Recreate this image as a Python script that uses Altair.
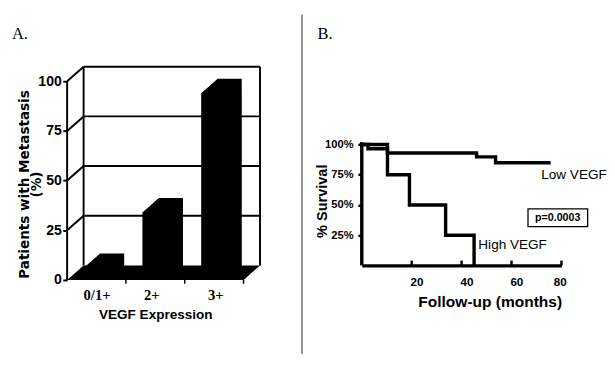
import altair as alt
import pandas as pd

# ---------------- Panel A data ----------------
categories = ["0/1+", "2+", "3+"]
metastasis_pct = [6, 34, 94]
y_ticks_a = [0, 25, 50, 75, 100]
x_label_pos_a = [0.5, 1.43, 2.52]

# ---------------- Panel B data ----------------
high_months = [0, 10.3, 19.1, 33.6, 45.0]
high_surv = [100, 75, 50, 25, 0]
low_months = [0, 2.5, 10.3, 46.0, 53.6, 75.0]
low_surv = [100, 96.5, 93.0, 89.8, 85.0, 85.0]
x_ticks_b = [20, 40, 60, 80]
y_ticks_b = [25, 50, 75, 100]
p_value_text = "p=0.0003"

# ---------------- geometry / style ----------------
N = len(categories)
DX = 0.28      # depth offset (category units)
DY = 7.3       # depth offset (% units)
BAR_L, BAR_R = 0.28, 0.69
XMAX = N + DX
YMAX = 100 + DY
W_A, H_A = 199, 220
W_B, H_B = 206, 205
SANS = "Liberation Sans"
SERIF = "Liberation Serif"
TOP = -53.7

# ---------- Panel A frames ----------
segs = []
for k in y_ticks_a[1:]:
    segs.append(dict(x=DX, x2=N + DX, y=k + DY, y2=k + DY))
    segs.append(dict(x=0, x2=DX, y=k, y2=k + DY))
segs.append(dict(x=DX, x2=DX, y=DY, y2=100 + DY))
segs.append(dict(x=N + DX, x2=N + DX, y=DY, y2=100 + DY))
segs.append(dict(x=0, x2=0, y=0, y2=100))
seg_df = pd.DataFrame(segs)

floor_df = pd.DataFrame(dict(x=[0, DX, N, N + DX], y=[0, DY, DY, DY], y2=[0, 0, 0, DY]))

bar_rows = []
for i, (c, v) in enumerate(zip(categories, metastasis_pct)):
    bar_rows.append(dict(cat=c, x=i + BAR_L, y=v, y2=0))
    bar_rows.append(dict(cat=c, x=i + BAR_L + DX, y=v + DY, y2=0))
    bar_rows.append(dict(cat=c, x=i + BAR_R + DX, y=v + DY, y2=0))
bar_df = pd.DataFrame(bar_rows)

tick_df = pd.DataFrame(dict(x=[i + 1 for i in range(N)]))

label_expr = " : ".join(
    [f"datum.value < {i + 1} ? '{c}'" for i, c in enumerate(categories[:-1])] + [f"'{categories[-1]}'"]
)

xs_a = alt.Scale(domain=[0, XMAX], nice=False, zero=False)
ys_a = alt.Scale(domain=[0, YMAX], nice=False, zero=False)

frame_a = alt.Chart(seg_df).mark_rule(color="black", strokeWidth=2).encode(
    x=alt.X("x:Q", scale=xs_a, axis=alt.Axis(
        values=x_label_pos_a, labelExpr=label_expr, ticks=False, domain=False, grid=False,
        labelFont=SERIF, labelFontWeight="bold", labelFontSize=15, labelPadding=8,
        labelColor="black",
        title="VEGF Expression", titleFont=SANS, titleFontWeight="bold", titleFontSize=14,
        titleColor="black", titleX=91, titleY=29)),
    x2="x2:Q",
    y=alt.Y("y:Q", scale=ys_a, axis=alt.Axis(
        values=y_ticks_a, domain=False, grid=False, tickSize=4.5, tickWidth=2, tickColor="black",
        labelFont=SANS, labelFontWeight="bold", labelFontSize=14.5, labelPadding=1.5,
        labelColor="black",
        title=["Patients with Metastasis", "(%)"], titleFont="DejaVu Sans", titleFontWeight="bold",
        titleFontSize=14, titleLineHeight=13, titleColor="black", titleX=-37, titleY=121)),
    y2="y2:Q",
)

floor = alt.Chart(floor_df).mark_area(color="black", opacity=1).encode(
    x="x:Q", y="y:Q", y2="y2:Q",
)

bars = alt.Chart(bar_df).mark_area(color="black", opacity=1).encode(
    x="x:Q", y="y:Q", y2="y2:Q", detail="cat:N",
)

ticks_a = alt.Chart(tick_df).mark_rule(color="black", strokeWidth=1.5).encode(
    x="x:Q",
    y=alt.value(H_A),
    y2=alt.value(H_A + 4),
)

label_a = alt.Chart(pd.DataFrame({"t": ["A."]})).mark_text(
    font=SERIF, fontSize=17, align="left", baseline="alphabetic", color="black"
).encode(text="t:N", x=alt.value(-57), y=alt.value(-28.7))

top_a = alt.Chart(pd.DataFrame({"a": [0]})).mark_rule(color="white", strokeWidth=1, opacity=0).encode(
    x=alt.value(10), y=alt.value(TOP), y2=alt.value(TOP + 5)
)

panel_a = alt.layer(frame_a, floor, bars, ticks_a, label_a, top_a).properties(width=W_A, height=H_A)

# ---------- Panel B frames ----------
curve_rows = []
for j, (t, s) in enumerate(zip(low_months, low_surv)):
    curve_rows.append(dict(series="Low VEGF", x=t, y=s, i=j))
for j, (t, s) in enumerate(zip(high_months, high_surv)):
    curve_rows.append(dict(series="High VEGF", x=t, y=s, i=j))
curve_df = pd.DataFrame(curve_rows)

xs_b = alt.Scale(domain=[0, 80], nice=False, zero=False)
ys_b = alt.Scale(domain=[0, 100], range=[H_B, 80.3], nice=False, zero=False)

curves = alt.Chart(curve_df).mark_line(
    interpolate="step-after", color="black", strokeWidth=3.5, strokeCap="square"
).encode(
    x=alt.X("x:Q", scale=xs_b, axis=alt.Axis(
        values=x_ticks_b, ticks=False, grid=False, domainWidth=3.5, domainColor="black",
        labelFont=SANS, labelFontWeight="bold", labelFontSize=12, labelPadding=12,
        labelOffset=5, labelColor="black",
        title="Follow-up (months)", titleFont=SANS, titleFontWeight="bold", titleFontSize=16,
        titleColor="black", titleX=132, titleY=29.5)),
    y=alt.Y("y:Q", scale=ys_b, axis=alt.Axis(
        values=y_ticks_b, labelExpr="datum.value + '%'", domain=False, grid=False,
        tickSize=4, tickWidth=2.5, tickColor="black",
        labelFont=SANS, labelFontWeight="bold", labelFontSize=11.5, labelPadding=5,
        labelColor="black",
        title="% Survival", titleFont=SANS, titleFontWeight="bold", titleFontSize=15,
        titleColor="black", titleX=-33, titleY=138.3)),
    detail="series:N",
    order="i:Q",
)

axis_df = pd.DataFrame({"x": [0], "y": [0], "y2": [102]})
yaxis_line = alt.Chart(axis_df).mark_rule(color="black", strokeWidth=3.5).encode(
    x="x:Q", y="y:Q", y2="y2:Q",
)

ticks_b = alt.Chart(pd.DataFrame({"x": x_ticks_b})).mark_rule(color="black", strokeWidth=2.5).encode(
    x="x:Q",
    y=alt.value(H_B),
    y2=alt.value(H_B - 5),
)

series_labels = pd.DataFrame({
    "t": ["Low VEGF", "High VEGF"],
    "x": [71.9, 46.7],
    "y": [75.0, 16.6],
})
labels_b = alt.Chart(series_labels).mark_text(
    font=SANS, fontSize=14, align="left", baseline="middle", color="black"
).encode(x="x:Q", y="y:Q", text="t:N")

pbox_df = pd.DataFrame({"x": [66.6], "x2": [90.5], "y": [46.8], "y2": [32.1]})
pbox = alt.Chart(pbox_df).mark_rect(
    fill="white", stroke="black", strokeWidth=1.3
).encode(x="x:Q", x2="x2:Q", y="y:Q", y2="y2:Q")

ptext_df = pd.DataFrame({"t": [p_value_text], "x": [78.5], "y": [39.4]})
ptext = alt.Chart(ptext_df).mark_text(
    font=SANS, fontSize=11, fontWeight="bold", align="center", baseline="middle", color="black"
).encode(text="t:N", x="x:Q", y="y:Q")

label_b = alt.Chart(pd.DataFrame({"t": ["B."]})).mark_text(
    font=SERIF, fontSize=17, align="left", baseline="alphabetic", color="black"
).encode(text="t:N", x=alt.value(-45.7), y=alt.value(-28.7))

divider = alt.Chart(pd.DataFrame({"a": [0]})).mark_rule(color="#222", strokeWidth=1).encode(
    x=alt.value(-61.7), y=alt.value(TOP), y2=alt.value(296.3)
)

panel_b = alt.layer(
    curves, divider, pbox, ptext, labels_b, yaxis_line, ticks_b, label_b
).properties(width=W_B, height=H_B)

chart = alt.hconcat(panel_a, panel_b, spacing=41).properties(
    padding={"left": 4, "top": 0, "right": 0, "bottom": 0},
    background="white",
).configure_view(stroke=None)

chart.save("out.html", embed_options={"renderer": "svg", "actions": False})
